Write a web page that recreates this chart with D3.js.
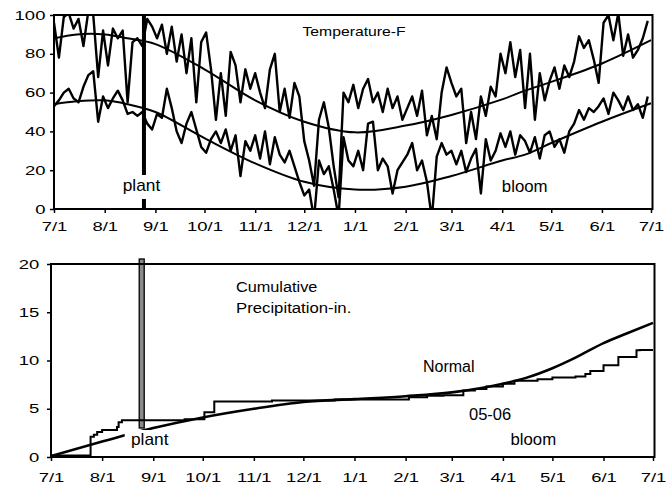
<!DOCTYPE html>
<html><head><meta charset="utf-8">
<script src="https://cdn.jsdelivr.net/npm/d3@7"></script>
<style>
body{margin:0;background:#fff}
svg{display:block}
text{font-family:"Liberation Sans",Arial,Helvetica,sans-serif;fill:#000}
</style>
</head><body>
<svg id="chart" width="671" height="491"></svg>
<script>
// ---------- DATA ----------
const tickDates  = ["2005-07-01","2005-08-01","2005-09-01","2005-10-01","2005-11-01","2005-12-01","2006-01-01","2006-02-01","2006-03-01","2006-04-01","2006-05-01","2006-06-01","2006-07-01"];
const tickLabels = ["7/1","8/1","9/1","10/1","11/1","12/1","1/1","2/1","3/1","4/1","5/1","6/1","7/1"];
const tempTicks = [0,20,40,60,80,100];
const precipTicks = [0,5,10,15,20];

const dailyStart = "2005-07-01";
const dailyStepDays = 3;
const dailyHigh = [96,78,99,101,93,98,84,102,100,68,92,74,93,88,92,55,86,88,84,98,94,88,95,80,94,76,90,70,88,55,86,
  91,72,46,70,48,81,74,55,72,62,70,60,52,72,80,50,62,47,65,58,35,25,12,46,55,42,22,6,60,55,64,52,62,67,55,60,50,62,52,58,46,
  52,58,48,61,38,48,36,60,73,65,58,62,34,50,36,58,48,63,58,80,70,86,68,82,52,80,46,70,56,66,73,62,74,68,76,89,83,87,77,65,
  96,100,87,101,79,90,78,82,88,97];
const dailyLow = [53,56,60,62,57,55,63,69,71,45,58,52,57,61,56,49,50,48,50,44,41,49,47,62,52,40,34,44,50,41,32,
  29,36,40,34,41,30,38,17,35,30,38,26,40,23,37,28,24,30,22,14,7,10,-5,25,18,22,10,-4,37,25,22,30,20,44,45,20,26,22,8,20,24,
  28,34,20,25,14,-5,27,34,28,30,23,30,19,26,31,8,36,25,30,39,32,40,28,38,35,29,37,26,38,40,32,36,29,40,44,51,46,52,50,53,
  57,49,60,56,51,58,51,54,47,58];

const normalDates = ["2005-07-01","2005-07-15","2005-08-01","2005-08-15","2005-09-01","2005-10-01","2005-11-01","2005-12-01","2006-01-01","2006-02-01","2006-03-01","2006-04-01","2006-04-15","2006-05-01","2006-06-01","2006-07-01"];
const normalHigh = [88,90,90,88,85,72,56,45,39.5,43,48.5,56.5,61,65.5,75,87];
const normalLow  = [54,55.5,56,54,50,36.5,23.5,14,10,11.5,17,25,28,34,45,54.5];

const precipNormalDates = ["2005-07-01","2005-08-01","2005-09-01","2005-10-01","2005-11-01","2005-12-01","2006-01-01","2006-02-01","2006-03-01","2006-04-01","2006-04-15","2006-05-01","2006-05-15","2006-06-01","2006-06-15","2006-07-01"];
const precipNormal = [0.1,1.6,3.0,4.1,5.0,5.7,6.0,6.3,6.7,7.6,8.2,9.2,10.3,11.8,12.8,13.9];

const precipActualDates = ["2005-07-01","2005-07-25","2005-07-27","2005-07-29","2005-08-01","2005-08-10","2005-08-11","2005-08-13","2005-09-20","2005-10-02","2005-10-08","2005-11-12","2005-12-20","2006-02-03","2006-02-14","2006-02-24","2006-03-08","2006-03-15","2006-03-22","2006-04-01","2006-04-08","2006-04-22","2006-05-01","2006-05-15","2006-05-21","2006-05-24","2006-06-01","2006-06-10","2006-06-21","2006-06-23","2006-07-01"];
const precipActual = [0.15,2.1,2.3,2.6,2.8,3.1,3.6,3.8,3.9,4.65,5.75,5.85,5.95,6.2,6.35,6.4,6.9,7.05,7.3,7.6,7.9,8.05,8.25,8.35,8.6,8.9,9.5,10.35,11.05,11.1,11.1];

const plantDate = "2005-08-25";

// ---------- SETUP ----------
const parse = d3.utcParse("%Y-%m-%d");
const svg = d3.select("#chart");
const d0 = parse("2005-07-01"), d1 = parse("2006-07-01");

const xT = d3.scaleUtc().domain([d0,d1]).range([54,651]);
const yT = d3.scaleLinear().domain([0,100]).range([209,15]);
const xP = d3.scaleUtc().domain([d0,d1]).range([51,653]);
const yP = d3.scaleLinear().domain([0,20]).range([457,264]);

const tickVals = tickDates.map(parse);
const TICK_SCALE = 1.42;

const defs = svg.append("defs");
defs.append("clipPath").attr("id","clipT").append("rect")
  .attr("x",xT.range()[0]).attr("y",yT(100)).attr("width",xT.range()[1]-xT.range()[0]+1).attr("height",yT(0)-yT(100));
defs.append("clipPath").attr("id","clipP").append("rect")
  .attr("x",xP.range()[0]).attr("y",yP(20)).attr("width",xP.range()[1]-xP.range()[0]+1).attr("height",yP(0)-yP(20));

// ---------- TOP: TEMPERATURE ----------
const gT = svg.append("g");
const start = parse(dailyStart);
const dailyDates = dailyHigh.map((_,i)=>d3.utcDay.offset(start,i*dailyStepDays));

const lineT = d3.line().x(d=>xT(d[0])).y(d=>yT(d[1]));
const lineTs = d3.line().x(d=>xT(d[0])).y(d=>yT(d[1])).curve(d3.curveCatmullRom.alpha(0.5));
const gTl = gT.append("g").attr("clip-path","url(#clipT)");

gTl.append("path").datum(normalDates.map((d,i)=>[parse(d),normalHigh[i]]))
  .attr("d",lineTs).attr("fill","none").attr("stroke","#000").attr("stroke-width",2);
gTl.append("path").datum(normalDates.map((d,i)=>[parse(d),normalLow[i]]))
  .attr("d",lineTs).attr("fill","none").attr("stroke","#000").attr("stroke-width",2);
gTl.append("path").datum(dailyDates.map((d,i)=>[d,dailyHigh[i]]))
  .attr("d",lineT).attr("fill","none").attr("stroke","#000").attr("stroke-width",2.4).attr("stroke-linejoin","round");
gTl.append("path").datum(dailyDates.map((d,i)=>[d,dailyLow[i]]))
  .attr("d",lineT).attr("fill","none").attr("stroke","#000").attr("stroke-width",2.4).attr("stroke-linejoin","round");

// plant line
const pxT = xT(parse(plantDate));
gT.append("line").attr("x1",pxT).attr("x2",pxT).attr("y1",yT(100)).attr("y2",yT(0))
  .attr("stroke","#000").attr("stroke-width",4);
gT.append("rect").attr("x",pxT-23).attr("y",175).attr("width",42).attr("height",24).attr("fill","#fff");

// frame
gT.append("rect").attr("x",xT.range()[0]).attr("y",yT(100))
  .attr("width",xT.range()[1]-xT.range()[0]+1.5).attr("height",yT(0)-yT(100))
  .attr("fill","none").attr("stroke","#000").attr("stroke-width",2);

// axes
const axTx = gT.append("g").attr("transform",`translate(0,${yT(0)})`)
  .call(d3.axisBottom(xT).tickValues(tickVals).tickFormat((d,i)=>tickLabels[i]).tickSize(4).tickPadding(9).tickSizeOuter(0));
const axTy = gT.append("g").attr("transform",`translate(${xT.range()[0]},0)`)
  .call(d3.axisLeft(yT).tickValues(tempTicks).tickSize(4).tickPadding(4.6).tickSizeOuter(0));

// labels
gT.append("text").attr("transform","translate(354,36) scale(1.26,1)").attr("text-anchor","middle")
  .style("font-size","12.5px").text("Temperature-F");
gT.append("text").attr("transform",`translate(${pxT-2.5},190.5) scale(1.08,1)`).attr("text-anchor","middle")
  .style("font-size","16px").text("plant");
gT.append("text").attr("transform","translate(524.7,191.5) scale(1.05,1)").attr("text-anchor","middle")
  .style("font-size","16px").text("bloom");

// ---------- BOTTOM: PRECIPITATION ----------
const gP = svg.append("g");
const pxP = xP(parse(plantDate));
gP.append("rect").attr("x",pxP-2.5).attr("y",259).attr("width",5).attr("height",428-259)
  .attr("fill","#8a8a8a").attr("stroke","#000").attr("stroke-width",1.3);

const gPl = gP.append("g").attr("clip-path","url(#clipP)");
gPl.append("path").datum(precipNormalDates.map((d,i)=>[parse(d),precipNormal[i]]))
  .attr("d",d3.line().x(d=>xP(d[0])).y(d=>yP(d[1])).curve(d3.curveMonotoneX))
  .attr("fill","none").attr("stroke","#000").attr("stroke-width",2.6);
gPl.append("path").datum(precipActualDates.map((d,i)=>[parse(d),precipActual[i]]))
  .attr("d",d3.line().x(d=>xP(d[0])).y(d=>yP(d[1])).curve(d3.curveStepAfter))
  .attr("fill","none").attr("stroke","#000").attr("stroke-width",2);

// white box behind plant label
gP.append("rect").attr("x",pxP-17).attr("y",430).attr("width",47).attr("height",22).attr("fill","#fff");

gP.append("rect").attr("x",xP.range()[0]).attr("y",yP(20))
  .attr("width",xP.range()[1]-xP.range()[0]+1.5).attr("height",yP(0)-yP(20))
  .attr("fill","none").attr("stroke","#000").attr("stroke-width",2);

const axPx = gP.append("g").attr("transform",`translate(0,${yP(0)})`)
  .call(d3.axisBottom(xP).tickValues(tickVals).tickFormat((d,i)=>tickLabels[i]).tickSize(4).tickPadding(12).tickSizeOuter(0));
const axPy = gP.append("g").attr("transform",`translate(${xP.range()[0]},0)`)
  .call(d3.axisLeft(yP).tickValues(precipTicks).tickSize(4).tickPadding(7.8).tickSizeOuter(0));

gP.append("text").attr("transform","translate(236,291.5) scale(1.05,1)").style("font-size","15.5px").text("Cumulative");
gP.append("text").attr("transform","translate(236,312.5) scale(1.08,1)").style("font-size","15.5px").text("Precipitation-in.");
gP.append("text").attr("transform","translate(423,371.5)").style("font-size","16px").text("Normal");
gP.append("text").attr("transform","translate(469,420) scale(1.03,1)").style("font-size","16px").text("05-06");
gP.append("text").attr("transform","translate(533.3,445) scale(1.05,1)").attr("text-anchor","middle").style("font-size","16px").text("bloom");
gP.append("text").attr("transform",`translate(${pxP+8},445) scale(1.08,1)`).attr("text-anchor","middle").style("font-size","16px").text("plant");

// axis styling
[axTx,axTy,axPx,axPy].forEach(a=>{
  a.select(".domain").remove();
  a.selectAll(".tick line").attr("stroke","#000").attr("stroke-width",1.5);
  a.selectAll(".tick text").style("font-size","13px").attr("fill","#000")
    .attr("font-family",null);
});
[axTx,axPx].forEach(a=>a.selectAll(".tick text").attr("transform",`scale(${TICK_SCALE},1)`));
[axTy,axPy].forEach(a=>a.selectAll(".tick text").each(function(){
  const t=d3.select(this); const x=+t.attr("x");
  t.attr("x",x/TICK_SCALE).attr("transform",`scale(${TICK_SCALE},1)`);
}));
</script>
</body></html>
